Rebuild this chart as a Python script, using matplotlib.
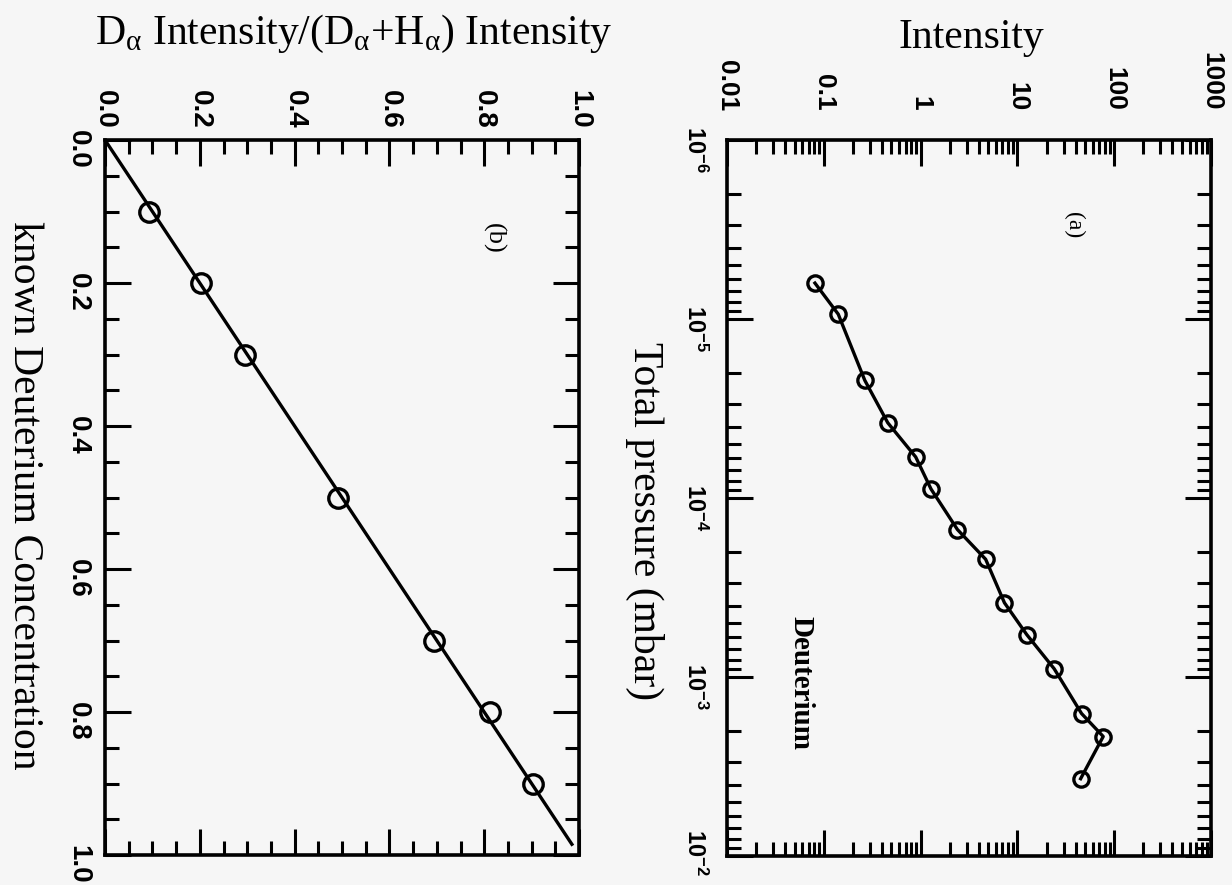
import numpy as np
import matplotlib
matplotlib.use('Agg')
from matplotlib import pyplot as plt
from matplotlib.ticker import LogLocator, MultipleLocator, NullFormatter
from matplotlib.transforms import ScaledTranslation

# panel (a): intensity vs total pressure (page is printed rotated 90 deg)
pressure = [6.3e-6, 9.4e-6, 2.2e-5, 3.8e-5, 5.9e-5, 8.9e-5, 1.5e-4, 2.2e-4,
            3.85e-4, 5.8e-4, 9.0e-4, 1.6e-3, 2.15e-3, 3.7e-3]
intensity = [0.081, 0.141, 0.265, 0.458, 0.89, 1.28, 2.4, 4.7,
             7.35, 12.5, 24, 46, 77, 45]
int_ticks = [0.01, 0.1, 1, 10, 100, 1000]
int_labels = ['0.01', '0.1', '1', '10', '100', '1000']
p_ticks = [1e-6, 1e-5, 1e-4, 1e-3, 1e-2]
p_labels = [r'$\mathregular{10^{-6}}$', r'$\mathregular{10^{-5}}$', r'$\mathregular{10^{-4}}$',
            r'$\mathregular{10^{-3}}$', r'$\mathregular{10^{-2}}$']

# panel (b): measured ratio vs known concentration
conc = [0.1, 0.2, 0.3, 0.5, 0.7, 0.8, 0.9]
ratio = [0.093, 0.203, 0.295, 0.492, 0.694, 0.812, 0.904]
fit_conc = [0.0, 0.985]
fit_ratio = [0.0, 0.985]
lin_ticks = [0.0, 0.2, 0.4, 0.6, 0.8, 1.0]
lin_labels = ['0.0', '0.2', '0.4', '0.6', '0.8', '1.0']

W, H = 1232, 885
bg = '#f6f6f6'
serif = 'Liberation Serif'
sans = 'Liberation Sans'

plt.rcParams['font.family'] = sans

fig = plt.figure(figsize=(W / 100, H / 100), dpi=100, facecolor=bg)


def px(x0, y0, x1, y1):
    return [x0 / W, 1 - y1 / H, (x1 - x0) / W, (y1 - y0) / H]


def style(ax, xfs, yfs, toppad, leftpad):
    ax.set_facecolor(bg)
    for s in ax.spines.values():
        s.set_linewidth(2.6)
    ax.tick_params(which='both', direction='in', top=True, bottom=True,
                   left=True, right=True, labeltop=True, labelbottom=False,
                   labelleft=True, labelright=False, width=2.2,
                   labelrotation=-90)
    ax.tick_params(which='major', length=19)
    ax.tick_params(which='minor', length=10)
    ax.tick_params(axis='x', pad=toppad, labelsize=xfs)
    ax.tick_params(axis='y', pad=leftpad, labelsize=yfs)
    for lab in ax.get_xticklabels() + ax.get_yticklabels():
        lab.set_fontweight('bold')


# ---- panel (b)
axb = fig.add_axes(px(105, 140, 579, 855))
axb.plot(fit_ratio, fit_conc, color='k', lw=2.4, zorder=2)
axb.plot(ratio, conc, 'o', ms=14, mfc='none', mec='k', mew=2.4, zorder=3)
axb.set_xlim(0, 1)
axb.set_ylim(1, 0)
axb.set_xticks(lin_ticks, lin_labels)
axb.set_yticks(lin_ticks, lin_labels)
axb.xaxis.set_minor_locator(MultipleLocator(0.05))
axb.yaxis.set_minor_locator(MultipleLocator(0.05))
style(axb, 20, 20, 8, 10)
axb.text(0.82, 1 - 0.137, '(b)', transform=axb.transAxes, rotation=-90,
         family=serif, fontsize=19, ha='center', va='center')

# ---- panel (a)
axa = fig.add_axes(px(727, 140, 1211, 856))
axa.plot(intensity, pressure, '-o', color='k', lw=2.4, ms=11, mfc='none',
         mec='k', mew=2.4)
axa.set_xscale('log')
axa.set_yscale('log')
axa.set_xlim(0.01, 1000)
axa.set_ylim(1e-2, 1e-6)
axa.set_xticks(int_ticks, int_labels)
axa.set_yticks(p_ticks, p_labels)
axa.xaxis.set_minor_locator(LogLocator(base=10, subs=np.arange(2, 10)))
axa.yaxis.set_minor_locator(LogLocator(base=10, subs=np.arange(2, 10)))
axa.xaxis.set_minor_formatter(NullFormatter())
axa.yaxis.set_minor_formatter(NullFormatter())
style(axa, 19, 17, 21, 14)
# nudge pressure labels up a little; the last one more so it stays on the page
ylabs = axa.get_yticklabels()
for i, lab in enumerate(ylabs):
    dy = 12 if i == len(ylabs) - 1 else 3
    lab.set_transform(lab.get_transform() +
                      ScaledTranslation(0, dy / 72, fig.dpi_scale_trans))
axa.text(0.715, 1 - 0.119, '(a)', transform=axa.transAxes, rotation=-90,
         family=serif, fontsize=17, ha='center', va='center')
axa.text(0.153, 1 - 0.758, 'Deuterium', transform=axa.transAxes, rotation=-90,
         family=serif, fontweight='bold', fontsize=21, ha='center', va='center')

# ---- axis titles
fig.text(971 / W, 1 - 38 / H, 'Intensity', family=serif, fontsize=30,
         ha='center', va='center')
fig.text(354 / W, 1 - 34 / H,
         r'D$_{\mathregular{α}}$ Intensity/(D$_{\mathregular{α}}$+H$_{\mathregular{α}}$) Intensity',
         family=serif, fontsize=30, ha='center', va='center')
fig.text(645 / W, 1 - 521 / H, 'Total pressure (mbar)', family=serif,
         fontsize=30, rotation=-90, ha='center', va='center')
fig.text(24 / W, 1 - 495 / H, 'known Deuterium Concentration', family=serif,
         fontsize=30, rotation=-90, ha='center', va='center')

fig.savefig('out.png', dpi=100, facecolor=bg)
